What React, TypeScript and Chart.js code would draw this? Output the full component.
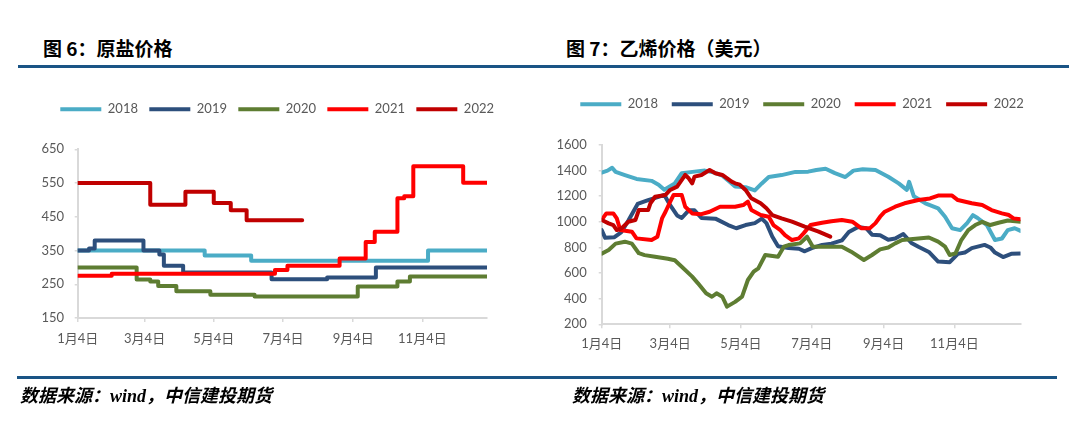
import React, { useEffect, useRef } from 'react';
import { Chart, registerables } from 'chart.js';

Chart.register(...registerables);

const FONT = "Lato, 'Noto Sans CJK SC', sans-serif";
const TICK_COLOR = '#595959';
const AXIS_COLOR = '#D9D9D9';

const years = ['2018', '2019', '2020', '2021', '2022'];
const seriesColors = ['#4BACC6', '#2D4F7C', '#5E7D32', '#FF0000', '#C00000'];

// x axis: days counted from 1月4日
const xTickDays = [0, 59, 120, 181, 243, 304];
const xTickLabels = ['1月4日', '3月4日', '5月4日', '7月4日', '9月4日', '11月4日'];
const xMaxDay = 361;

// ---------- 图6 原盐价格 (step change points: day, new price) ----------
const saltYTicks = [150, 250, 350, 450, 550, 650];
const saltDays2018 = [0, 112, 153, 309, 361];
const salt2018 = [350, 335, 320, 350, 350];
const saltDays2019 = [0, 10, 15, 58, 72, 76, 93, 171, 220, 263, 361];
const salt2019 = [350, 356, 380, 350, 338, 305, 285, 265, 270, 300, 300];
const saltDays2020 = [0, 52, 64, 71, 87, 117, 156, 247, 282, 293, 361];
const salt2020 = [300, 264, 258, 245, 229, 219, 214, 243, 258, 273, 273];
const saltDays2021 = [0, 30, 174, 185, 231, 254, 262, 282, 288, 296, 340, 361];
const salt2021 = [275, 281, 292, 305, 326, 375, 406, 505, 511, 600, 551, 551];
const saltDays2022 = [0, 64, 95, 120, 135, 149, 198];
const salt2022 = [550, 486, 524, 491, 469, 440, 440];

// ---------- 图7 乙烯价格（美元） ----------
const ethyYTicks = [200, 400, 600, 800, 1000, 1200, 1400, 1600];
const ethyDays2018 = [0, 5, 9, 12, 20, 30, 43, 49, 54, 63, 69, 80, 89, 97, 104, 112, 115, 124, 132, 138, 144, 155, 167, 178, 185, 193, 201, 210, 217, 225, 236, 247, 256, 263, 265, 269, 279, 290, 296, 302, 309, 315, 320, 324, 332, 339, 345, 350, 356, 361];
const ethy2018 = [1385, 1400, 1422, 1390, 1365, 1335, 1320, 1290, 1250, 1300, 1380, 1392, 1400, 1385, 1360, 1300, 1275, 1270, 1245, 1300, 1350, 1365, 1390, 1392, 1405, 1415, 1380, 1350, 1400, 1410, 1405, 1352, 1300, 1250, 1312, 1200, 1145, 1105, 1040, 950, 935, 990, 1052, 1030, 975, 858, 870, 935, 950, 930];
const ethyDays2019 = [0, 3, 11, 17, 23, 31, 40, 49, 54, 59, 65, 69, 75, 80, 86, 98, 109, 116, 124, 132, 138, 142, 147, 152, 161, 170, 175, 181, 190, 198, 207, 213, 221, 228, 233, 240, 247, 253, 260, 267, 273, 282, 290, 300, 307, 313, 319, 330, 335, 339, 346, 353, 361];
const ethy2019 = [935, 875, 880, 920, 1010, 1140, 1170, 1195, 1210, 1130, 1050, 1030, 1090, 1090, 1030, 1025, 975, 950, 975, 990, 1025, 990, 885, 810, 795, 790, 770, 795, 820, 830, 855, 920, 960, 950, 900, 895, 860, 870, 905, 835, 805, 765, 690, 685, 750, 760, 795, 820, 800, 760, 725, 750, 752];
const ethyDays2020 = [0, 6, 12, 20, 26, 32, 37, 46, 57, 63, 69, 78, 83, 90, 95, 99, 104, 108, 115, 121, 126, 131, 135, 141, 152, 157, 161, 171, 177, 182, 193, 207, 215, 226, 233, 240, 247, 253, 259, 273, 282, 290, 296, 300, 305, 310, 316, 322, 328, 335, 342, 350, 361];
const ethy2020 = [752, 780, 830, 845, 830, 755, 740, 728, 712, 700, 650, 572, 520, 442, 415, 442, 415, 338, 375, 416, 546, 611, 637, 741, 728, 806, 819, 832, 884, 806, 806, 806, 767, 702, 741, 785, 800, 832, 858, 870, 878, 845, 806, 741, 754, 858, 936, 975, 1000, 975, 993, 1010, 1000];
const ethyDays2021 = [0, 4, 10, 13, 16, 26, 30, 43, 48, 52, 55, 59, 62, 69, 72, 78, 86, 93, 102, 115, 122, 126, 129, 137, 144, 148, 154, 158, 164, 170, 174, 180, 190, 198, 207, 216, 224, 231, 236, 240, 244, 253, 261, 273, 283, 290, 302, 307, 319, 328, 336, 345, 351, 355, 361];
const ethy2021 = [1015, 1066, 1066, 1027, 936, 923, 871, 858, 884, 1027, 1079, 1157, 1210, 1210, 1118, 1066, 1060, 1079, 1118, 1118, 1131, 1157, 1092, 1053, 1040, 975, 936, 897, 858, 871, 910, 975, 993, 1005, 1014, 1001, 949, 949, 990, 1040, 1079, 1118, 1145, 1170, 1183, 1205, 1205, 1170, 1145, 1131, 1092, 1066, 1053, 1027, 1020];
const ethyDays2022 = [0, 6, 10, 13, 17, 23, 29, 32, 40, 42, 46, 55, 59, 65, 72, 75, 78, 80, 86, 93, 98, 104, 112, 115, 119, 124, 129, 137, 142, 147, 155, 164, 175, 187, 197];
const ethy2022 = [1015, 988, 975, 936, 949, 1001, 1014, 1092, 1092, 1145, 1196, 1210, 1249, 1275, 1366, 1340, 1301, 1353, 1366, 1405, 1379, 1366, 1314, 1301, 1290, 1249, 1184, 1145, 1106, 1053, 1027, 1001, 962, 923, 884];

const saltDays = [saltDays2018, saltDays2019, saltDays2020, saltDays2021, saltDays2022];
const saltVals = [salt2018, salt2019, salt2020, salt2021, salt2022];
const ethyDays = [ethyDays2018, ethyDays2019, ethyDays2020, ethyDays2021, ethyDays2022];
const ethyVals = [ethy2018, ethy2019, ethy2020, ethy2021, ethy2022];

function toPoints(days: number[], vals: number[]) {
  return days.map((d, i) => ({ x: d, y: vals[i] }));
}

// Keeps the legend on one row, adds space under it, and places its first item at `start`.
function legendPlacer(extra: number, start: number) {
  return {
    id: 'legendPlacer',
    beforeInit(chart: any) {
      const legend = chart.legend;
      if (!legend) return;
      const origFit = legend.fit;
      legend.fit = function () {
        this.maxWidth = 2000;
        origFit.call(this);
        this.height += extra;
      };
    },
    afterLayout(chart: any) {
      const lg = chart.legend;
      if (!lg || !lg.lineWidths) return;
      const pad = lg.options.labels.padding;
      lg.left = start - pad - 5;
      lg.right = start + lg.lineWidths[0] + 5;
      lg.width = lg.right - lg.left;
    },
  };
}

interface Cfg {
  days: number[][];
  vals: number[][];
  stepped: boolean;
  yMin: number;
  yMax: number;
  yTicks: number[];
  padding: { left: number; right: number; top: number; bottom: number };
  legendPadding: number;
  legendExtra: number;
  legendStart: number;
  yWidth: number;
  yLabelPad: number;
  xLabelPad: number;
}

function makeConfig(c: Cfg): any {
  return {
    type: 'line',
    data: {
      datasets: years.map((y, i) => ({
        label: y,
        data: toPoints(c.days[i], c.vals[i]),
        borderColor: seriesColors[i],
        backgroundColor: seriesColors[i],
        borderWidth: 4,
        pointRadius: 0,
        pointHoverRadius: 0,
        stepped: c.stepped ? 'before' : false,
        tension: 0,
        fill: false,
        order: years.length - 1 - i,
        borderCapStyle: 'round',
        borderJoinStyle: 'round',
      })),
    },
    options: {
      animation: false,
      responsive: false,
      maintainAspectRatio: false,
      events: [],
      layout: { padding: c.padding },
      plugins: {
        tooltip: { enabled: false },
        legend: {
          display: true,
          position: 'top',
          align: 'center',
          labels: {
            usePointStyle: true,
            pointStyle: 'line',
            pointStyleWidth: 41,
            padding: c.legendPadding,
            color: TICK_COLOR,
            font: { family: FONT, size: 13 },
            sort: (a: any, b: any) => a.datasetIndex - b.datasetIndex,
          },
        },
      },
      scales: {
        x: {
          type: 'linear',
          min: 0,
          max: xMaxDay,
          afterBuildTicks: (s: any) => {
            s.ticks = xTickDays.map((v) => ({ value: v }));
          },
          afterFit: (s: any) => {
            s.height = 40;
          },
          ticks: {
            autoSkip: false,
            maxRotation: 0,
            color: TICK_COLOR,
            font: { family: FONT, size: 13 },
            padding: c.xLabelPad,
            callback: (v: number) => {
              const k = xTickDays.indexOf(v);
              return k >= 0 ? xTickLabels[k] : '';
            },
          },
          grid: {
            display: true,
            drawOnChartArea: false,
            drawTicks: true,
            tickLength: 4,
            color: AXIS_COLOR,
            lineWidth: 1.5,
          },
          border: { display: true, color: AXIS_COLOR, width: 2 },
        },
        y: {
          type: 'linear',
          min: c.yMin,
          max: c.yMax,
          afterBuildTicks: (s: any) => {
            s.ticks = c.yTicks.map((v) => ({ value: v }));
          },
          afterFit: (s: any) => {
            s.width = c.yWidth;
          },
          ticks: {
            color: TICK_COLOR,
            font: { family: FONT, size: 13 },
            padding: c.yLabelPad,
            callback: (v: number) => String(v),
          },
          grid: {
            display: true,
            drawOnChartArea: false,
            drawTicks: true,
            tickLength: 3,
            color: AXIS_COLOR,
            lineWidth: 1.5,
          },
          border: { display: true, color: AXIS_COLOR, width: 2 },
        },
      },
    },
    plugins: [legendPlacer(c.legendExtra, c.legendStart)],
  };
}

const titleStyle: React.CSSProperties = {
  position: 'absolute',
  top: 38,
  fontFamily: "'Noto Sans CJK SC', sans-serif",
  fontWeight: 700,
  fontSize: 19,
  lineHeight: '19px',
  color: '#000',
  whiteSpace: 'nowrap',
};

const sourceStyle: React.CSSProperties = {
  position: 'absolute',
  top: 387,
  fontFamily: "'Liberation Serif', 'Noto Sans CJK SC', serif",
  fontWeight: 700,
  fontStyle: 'italic',
  fontSize: 18,
  lineHeight: '18px',
  color: '#000',
  whiteSpace: 'nowrap',
};

export default function App() {
  const leftRef = useRef<HTMLCanvasElement>(null);
  const rightRef = useRef<HTMLCanvasElement>(null);

  useEffect(() => {
    const left = new Chart(
      leftRef.current as HTMLCanvasElement,
      makeConfig({
        days: saltDays,
        vals: saltVals,
        stepped: true,
        yMin: 150,
        yMax: 650,
        yTicks: saltYTicks,
        padding: { left: 20, right: 53, top: 91.45, bottom: 86 },
        legendPadding: 11.35,
        legendExtra: 23.5,
        legendStart: 60.3,
        yWidth: 57.7,
        yLabelPad: 10.7,
        xLabelPad: 9,
      })
    );
    const right = new Chart(
      rightRef.current as HTMLCanvasElement,
      makeConfig({
        days: ethyDays,
        vals: ethyVals,
        stepped: false,
        yMin: 200,
        yMax: 1600,
        yTicks: ethyYTicks,
        padding: { left: 10, right: 59.5, top: 84, bottom: 79.7 },
        legendPadding: 13.8,
        legendExtra: 24.2,
        legendStart: 40.3,
        yWidth: 51.7,
        yLabelPad: 12,
        xLabelPad: 8,
      })
    );
    return () => {
      left.destroy();
      right.destroy();
    };
  }, []);

  return (
    <div
      style={{
        position: 'absolute',
        left: 0,
        top: 0,
        width: 1080,
        height: 444,
        background: '#fff',
        overflow: 'hidden',
      }}
    >
      <div style={{ ...titleStyle, left: 43 }}>图 6：原盐价格</div>
      <div style={{ ...titleStyle, left: 566 }}>图 7：乙烯价格（美元）</div>
      <div style={{ position: 'absolute', left: 18, top: 65, width: 1051, height: 3, background: '#1A5485' }} />
      <canvas
        ref={leftRef}
        width={540}
        height={444}
        style={{ position: 'absolute', left: 0, top: 0, width: 540, height: 444 }}
      />
      <canvas
        ref={rightRef}
        width={540}
        height={444}
        style={{ position: 'absolute', left: 540, top: 0, width: 540, height: 444 }}
      />
      <div style={{ position: 'absolute', left: 17, top: 376, width: 1040, height: 3, background: '#1A5485' }} />
      <div style={{ ...sourceStyle, left: 20 }}>数据来源：wind，中信建投期货</div>
      <div style={{ ...sourceStyle, left: 572 }}>数据来源：wind，中信建投期货</div>
    </div>
  );
}
